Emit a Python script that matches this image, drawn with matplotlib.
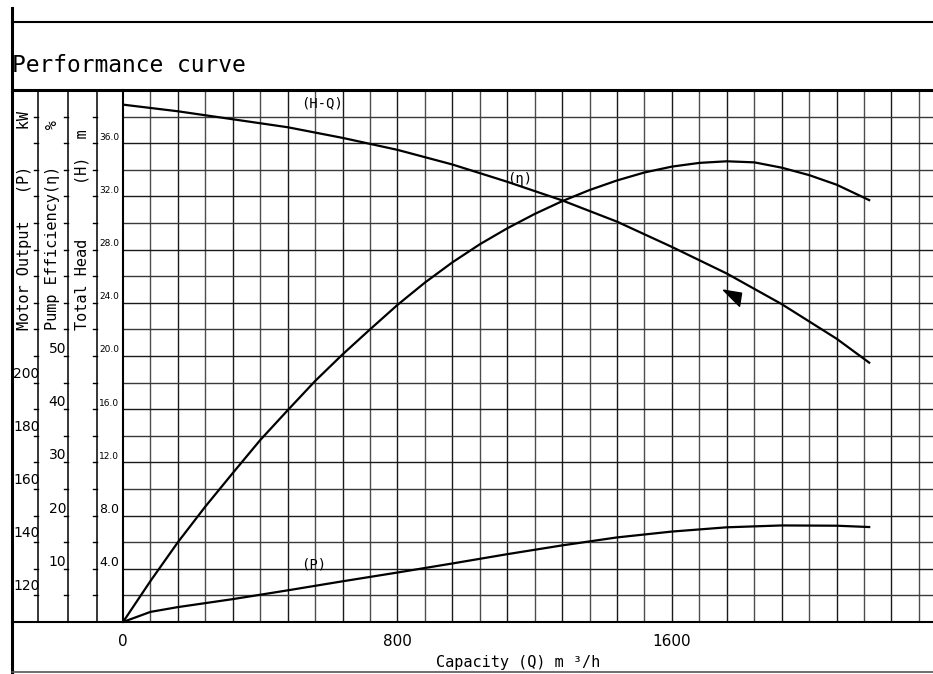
import numpy as np
import matplotlib.pyplot as plt
from matplotlib.lines import Line2D
from matplotlib import transforms

# capacity Q (m3/h) vs total head H (m)
q_hq = [0, 160, 320, 480, 640, 800, 960, 1120, 1280, 1440, 1600, 1760, 1920, 2080, 2175]
head = [38.9, 38.4, 37.8, 37.2, 36.4, 35.5, 34.4, 33.1, 31.7, 30.1, 28.2, 26.2, 23.9, 21.3, 19.5]

# pump efficiency (%)
q_eff = [0, 80, 160, 240, 320, 400, 480, 560, 640, 720, 800, 880, 960, 1040, 1120,
         1200, 1280, 1360, 1440, 1520, 1600, 1680, 1760, 1840, 1920, 2000, 2080, 2175]
eff = [0, 7.7, 15.0, 21.7, 28.0, 34.2, 39.8, 45.3, 50.3, 55.0, 59.6, 63.8, 67.6, 71.0, 74.0,
       76.7, 79.1, 81.2, 83.0, 84.5, 85.6, 86.3, 86.6, 86.4, 85.4, 84.0, 82.2, 79.3]

# motor output (kW)
q_p = [0, 80, 160, 320, 480, 640, 800, 960, 1120, 1280, 1440, 1600, 1760, 1920, 2080, 2175]
power = [110, 113.8, 115.6, 118.6, 121.9, 125.3, 128.6, 132.0, 135.5, 138.8, 141.8, 144.0,
         145.6, 146.3, 146.2, 145.7]

# duty point marker
duty_q, duty_h = 1781, 24.5

q_ticks = [0, 800, 1600]
h_labels = [36.0, 32.0, 28.0, 24.0, 20.0, 16.0, 12.0, 8.0, 4.0]
eff_labels = [50, 40, 30, 20, 10]
p_labels = [200, 180, 160, 140, 120]

W, HP = 933, 674
MONO = 'DejaVu Sans Mono'


def fx(x):
    return x / W


def fy(y):
    return 1 - y / HP


fig = plt.figure(figsize=(9.33, 6.74), dpi=100)
ax = fig.add_axes([fx(123), fy(622), (933 - 123) / W, (622 - 90) / HP])
ax.set_xlim(0, 2361)
ax.set_ylim(0, 40)

# grid
for q in np.arange(80, 2400, 80):
    ax.axvline(q, color='#1a1a1a' if q % 160 == 0 else '#4d4d4d', lw=1.0, zorder=1)
for h in np.arange(2, 40, 2):
    ax.axhline(h, color='#1a1a1a' if h % 4 == 0 else '#3a3a3a', lw=1.0, zorder=1)

ax.set_xticks(q_ticks)
ax.set_xticklabels([str(v) for v in q_ticks])
ax.tick_params(axis='x', length=0, pad=9, labelsize=11)
ax.set_yticks([])
for s in ['top', 'right']:
    ax.spines[s].set_visible(False)
ax.spines['left'].set_linewidth(1.5)
ax.spines['bottom'].set_linewidth(1.5)

ax_eff = ax.twinx()
ax_eff.set_ylim(0, 100)
ax_eff.axis('off')
ax_p = ax.twinx()
ax_p.set_ylim(110, 310)
ax_p.axis('off')

ax.plot(q_hq, head, color='k', lw=1.6, zorder=3)
ax_eff.plot(q_eff, eff, color='k', lw=1.6, zorder=3)
ax_p.plot(q_p, power, color='k', lw=1.6, zorder=3)

tri = [(-11, 6.3), (7, 3.3), (5, -9.7), (-11, 6.3)]
ax.plot([duty_q], [duty_h], marker=tri, markersize=16, color='k', lw=0, zorder=4)

ax.text(581, 39.0, '(H-Q)', family=MONO, fontsize=10, ha='center', va='center')
ax.text(1156, 33.3, '(η)', family=MONO, fontsize=10, ha='center', va='center')
ax.text(555, 4.3, '(P)', family=MONO, fontsize=10, ha='center', va='center')

# frame lines
line_kw = dict(color='k', transform=fig.transFigure)
fig.add_artist(Line2D([fx(12), fx(12)], [fy(8), fy(674)], lw=2.2, **line_kw))
fig.add_artist(Line2D([fx(12), 1], [fy(22), fy(22)], lw=1.5, **line_kw))
fig.add_artist(Line2D([fx(12), 1], [fy(90), fy(90)], lw=2.2, **line_kw))
fig.add_artist(Line2D([fx(12), fx(123)], [fy(622), fy(622)], lw=1.5, **line_kw))
fig.add_artist(Line2D([fx(12), 1], [fy(672), fy(672)], lw=1.2, color='#555',
                      transform=fig.transFigure))
for xc in [38, 68, 97]:
    fig.add_artist(Line2D([fx(xc), fx(xc)], [fy(90), fy(622)], lw=1.1, **line_kw))

# small marks on the scale columns
trans_h = transforms.blended_transform_factory(fig.transFigure, ax.transData)
for h in np.arange(2, 40, 2):
    for xc in [38, 68, 97]:
        fig.add_artist(Line2D([fx(xc - 4), fx(xc)], [h, h], lw=1.0, color='k',
                              transform=trans_h))

# scale labels
t_h = transforms.offset_copy(trans_h, fig=fig, y=6, units='dots')
for v in h_labels:
    fig.text(fx(99), v, f'{v:.1f}', transform=t_h, fontsize=9 if v < 10 else 6.5,
             ha='left', va='center')
trans_e = transforms.blended_transform_factory(fig.transFigure, ax_eff.transData)
t_e = transforms.offset_copy(trans_e, fig=fig, y=7, units='dots')
for v in eff_labels:
    fig.text(fx(66), v, str(v), transform=t_e, fontsize=10, ha='right', va='center')
trans_p = transforms.blended_transform_factory(fig.transFigure, ax_p.transData)
t_p = transforms.offset_copy(trans_p, fig=fig, y=9, units='dots')
for v in p_labels:
    fig.text(fx(13), v, str(v), transform=t_p, fontsize=10, ha='left', va='center')

fig.text(fx(25), fy(330), 'Motor Output   (P)    kW', family=MONO, fontsize=11,
         rotation=90, ha='center', va='bottom')
fig.text(fx(53), fy(330), 'Pump Efficiency(η)    %', family=MONO, fontsize=11,
         rotation=90, ha='center', va='bottom')
fig.text(fx(82), fy(330), 'Total Head      (H)  m', family=MONO, fontsize=11,
         rotation=90, ha='center', va='bottom')

fig.text(fx(12), fy(72), 'Performance curve', family=MONO, fontsize=16.5,
         ha='left', va='baseline')
fig.text(fx(600), fy(663), 'Capacity (Q) m ³/h', family=MONO, fontsize=11,
         ha='right', va='center')

fig.savefig('out.png', dpi=100)
